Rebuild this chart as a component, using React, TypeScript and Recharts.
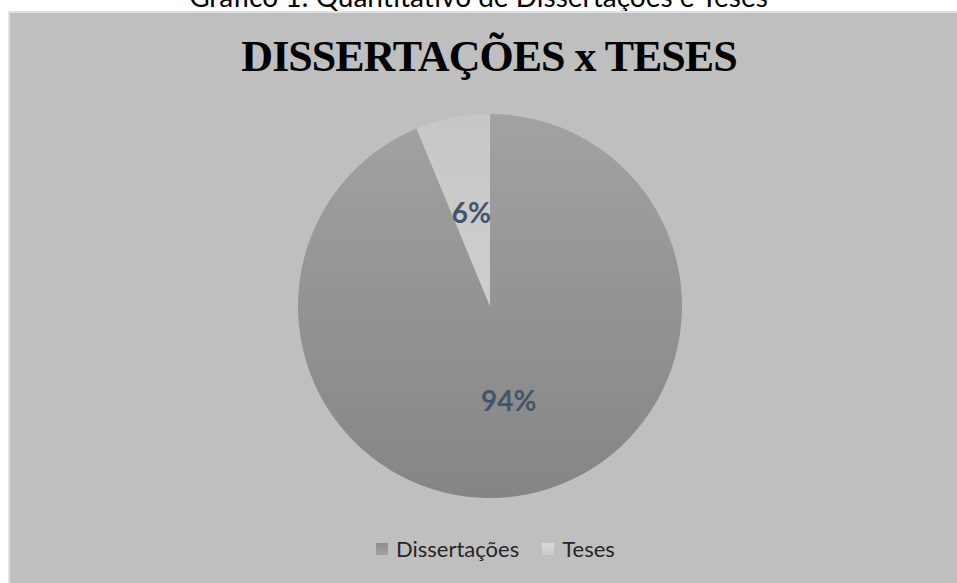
import { PieChart, Pie, Cell, Legend } from "recharts";

const categories = ["Dissertações", "Teses"];
const shares = [93.75, 6.25];
const chartTitle = "DISSERTAÇÕES x TESES";
const caption = "Gráfico 1: Quantitativo de Dissertações e Teses";

const data = categories.map((name, i) => ({ name, value: shares[i] }));

const FILLS = ["url(#gradDiss)", "url(#gradTeses)"];
const LEGEND_FILLS = [
  "linear-gradient(#8c8c8c, #a3a3a3)",
  "linear-gradient(#dadada, #c9c9c9)",
];
const RADIAN = Math.PI / 180;

const renderLabel = ({ cx, cy, midAngle, outerRadius, percent }: any) => {
  const r = outerRadius * 0.5;
  const x = cx + r * Math.cos(-midAngle * RADIAN);
  const y = cy + r * Math.sin(-midAngle * RADIAN);
  return (
    <text
      x={x}
      y={y}
      textAnchor="middle"
      dominantBaseline="central"
      fill="#44546a"
      style={{ fontFamily: "Lato", fontWeight: 700, fontSize: 28 }}
    >
      {`${Math.round(percent * 100)}%`}
    </text>
  );
};

const LegendContent = () => (
  <div
    style={{
      display: "flex",
      alignItems: "center",
      marginLeft: 376,
      fontFamily: "Lato",
      fontSize: 22,
      color: "#262626",
    }}
  >
    {categories.map((c, i) => (
      <div
        key={c}
        style={{ display: "flex", alignItems: "center", marginRight: 23 }}
      >
        <span
          style={{
            width: 12,
            height: 12,
            background: LEGEND_FILLS[i],
            marginRight: 8,
            display: "inline-block",
          }}
        />
        <span>{c}</span>
      </div>
    ))}
  </div>
);

export default function App() {
  return (
    <div
      style={{
        position: "fixed",
        left: 0,
        top: 0,
        width: 957,
        height: 583,
        overflow: "hidden",
        background: "#fff",
      }}
    >
      <div
        style={{
          position: "absolute",
          left: 0,
          width: 957,
          top: -21,
          textAlign: "center",
          fontFamily: "Lato",
          fontSize: 28,
          lineHeight: "34px",
          color: "#000",
          whiteSpace: "nowrap",
        }}
      >
        {caption}
      </div>
      <div
        style={{
          position: "absolute",
          left: 8,
          top: 11,
          width: 1000,
          height: 640,
          background: "#bfbfbf",
          border: "2px solid #dde0e6",
        }}
      />
      <div
        style={{
          position: "absolute",
          left: 0,
          width: 978,
          top: 32,
          textAlign: "center",
          fontFamily: "'Liberation Serif', 'Times New Roman', serif",
          fontWeight: 700,
          fontSize: 44,
          letterSpacing: -1,
          lineHeight: "50px",
          color: "#000",
        }}
      >
        {chartTitle}
      </div>
      <div style={{ position: "absolute", left: 0, top: 0 }}>
        <PieChart
          width={957}
          height={583}
          margin={{ top: 0, right: 0, bottom: 0, left: 0 }}
        >
          <defs>
            <linearGradient id="gradDiss" x1="0" y1="0" x2="0" y2="1">
              <stop offset="0%" stopColor="#a2a2a2" />
              <stop offset="100%" stopColor="#858585" />
            </linearGradient>
            <linearGradient id="gradTeses" x1="0" y1="0" x2="0" y2="1">
              <stop offset="0%" stopColor="#c7c7c7" />
              <stop offset="100%" stopColor="#cecece" />
            </linearGradient>
          </defs>
          <Pie
            data={data}
            dataKey="value"
            nameKey="name"
            cx={490}
            cy={306}
            outerRadius={192}
            startAngle={90}
            endAngle={-270}
            stroke="none"
            labelLine={false}
            label={renderLabel}
            isAnimationActive={false}
          >
            {data.map((d, i) => (
              <Cell key={d.name} fill={FILLS[i]} />
            ))}
          </Pie>
          <Legend
            content={<LegendContent />}
            wrapperStyle={{ position: "absolute", left: 0, top: 535, width: 957 }}
          />
        </PieChart>
      </div>
    </div>
  );
}
